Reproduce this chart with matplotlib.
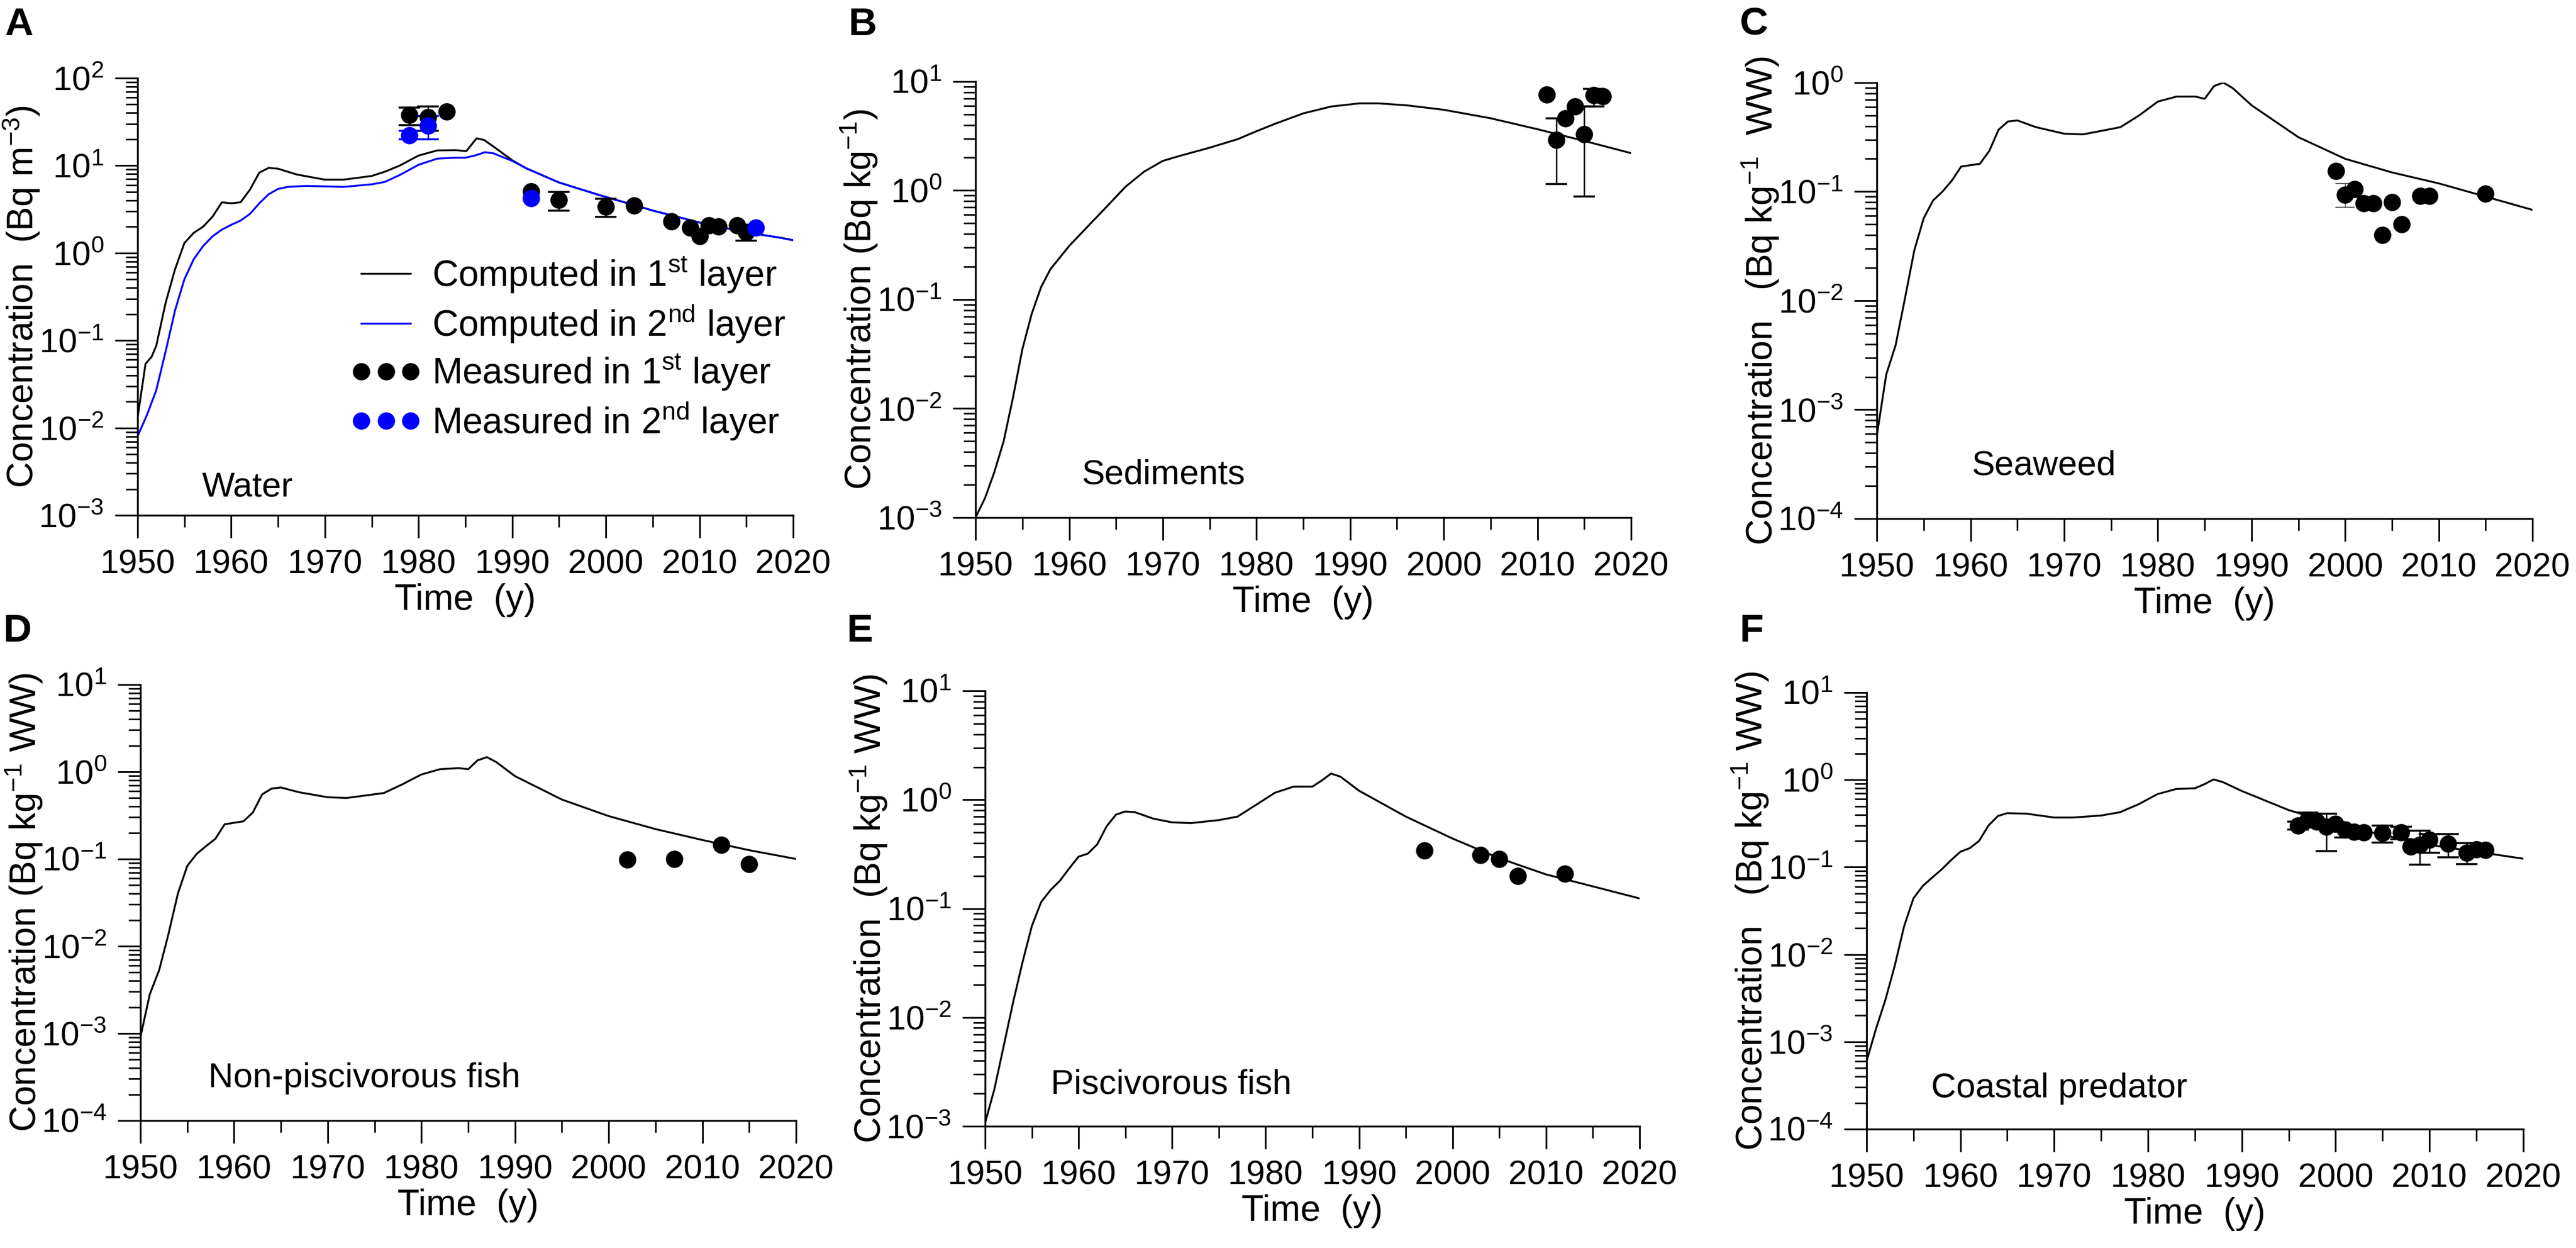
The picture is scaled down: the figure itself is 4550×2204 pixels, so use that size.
import matplotlib
matplotlib.use("Agg")
import matplotlib.pyplot as plt
from matplotlib.ticker import LogLocator, MultipleLocator, NullFormatter

plt.rcParams['font.family'] = ['Liberation Sans', 'DejaVu Sans']
plt.rcParams['mathtext.fontset'] = 'custom'
plt.rcParams['mathtext.rm'] = 'Liberation Sans'
plt.rcParams['mathtext.it'] = 'Liberation Sans:italic'
plt.rcParams['mathtext.bf'] = 'Liberation Sans:bold'

# ---------------- A: water ----------------
a_years_1 = [1950, 1950.85, 1951.5, 1952, 1953, 1954, 1955, 1956, 1957, 1958, 1959, 1960, 1961,
             1962, 1963, 1964, 1965, 1967, 1970, 1972, 1975, 1976.4, 1978, 1980, 1982, 1984,
             1985.1, 1986.2, 1987, 1988, 1990, 1991.5, 1995, 1999.3, 2005, 2010, 2015, 2018.7, 2020]
a_conc_1 = [0.013, 0.054, 0.065, 0.087, 0.27, 0.65, 1.3, 1.7, 2.0, 2.6, 3.8, 3.7, 3.8,
            5.3, 8.3, 9.4, 9.2, 7.9, 6.9, 6.9, 7.6, 8.5, 10.0, 13.0, 14.9, 15.0,
            14.6, 20.5, 19.6, 16.5, 11.5, 9.3, 6.4, 4.6, 3.06, 2.23, 1.72, 1.49, 1.40]
a_years_2 = [1950, 1951, 1952, 1953, 1954, 1955, 1956, 1957, 1958, 1959, 1960, 1961, 1962,
             1963, 1964, 1965, 1966, 1968, 1972, 1975, 1976.4, 1978, 1980, 1982, 1984, 1985,
             1986, 1987.1, 1988, 1990, 1991.5, 1995, 1999.3, 2005, 2010, 2015, 2018.7, 2020]
a_conc_2 = [0.008, 0.014, 0.027, 0.075, 0.22, 0.5, 0.85, 1.2, 1.55, 1.85, 2.1, 2.35, 2.8,
            3.7, 4.7, 5.4, 5.7, 5.85, 5.7, 6.1, 6.5, 7.8, 10.2, 12.0, 12.3, 12.3,
            13.0, 14.2, 13.8, 11.3, 9.3, 6.4, 4.6, 3.06, 2.23, 1.72, 1.49, 1.40]
a_meas1_years = [1979, 1981, 1983, 1992, 1995, 2000, 2003, 2007, 2009, 2010, 2011, 2012, 2014, 2015]
a_meas1_conc = [38, 35.7, 41.5, 5.07, 4.07, 3.39, 3.5, 2.29, 1.96, 1.56, 2.07, 2.0, 2.07, 1.74]
a_err1_years = [1979, 1981, 1995, 2000, 2015]
a_err1_low = [29, 25, 3.04, 2.6, 1.38]
a_err1_high = [46, 47.5, 5.0, 4.2, 2.1]
a_meas2_years = [1979, 1981, 1992, 2016]
a_meas2_conc = [22.3, 28.6, 4.24, 1.96]
a_err2_years = [1979, 1981]
a_err2_low = [20, 20]
a_err2_high = [25, 37]

# ---------------- B: sediments ----------------
b_years = [1950, 1951, 1952, 1953, 1954, 1955, 1956, 1957, 1958, 1960, 1962, 1964, 1966, 1968,
           1970, 1972, 1975, 1978, 1980, 1982, 1985, 1988, 1991, 1993, 1996, 2000, 2005, 2010,
           2015, 2020]
b_conc = [0.001, 0.0015, 0.0026, 0.005, 0.0126, 0.035, 0.074, 0.13, 0.19, 0.31, 0.47, 0.71,
          1.08, 1.49, 1.87, 2.1, 2.47, 2.96, 3.5, 4.1, 5.1, 5.9, 6.3, 6.3, 6.05, 5.5, 4.6,
          3.65, 2.85, 2.2]
b_meas_years = [2011, 2012, 2013, 2014, 2015, 2016, 2017]
b_meas_conc = [7.6, 2.9, 4.6, 5.9, 3.3, 7.5, 7.3]
b_err_years = [2012, 2015, 2016]
b_err_low = [1.15, 0.88, 5.9]
b_err_high = [4.6, 5.9, 8.6]

# ---------------- C: seaweed ----------------
c_years = [1950, 1951, 1952, 1953, 1954, 1955, 1956, 1957, 1958, 1959, 1961, 1962, 1963, 1964,
           1965, 1967, 1970, 1972, 1976, 1978, 1980, 1982, 1984, 1985, 1986, 1987, 1988, 1990,
           1995, 2000, 2005, 2010, 2015, 2020]
c_conc = [0.00058, 0.0021, 0.0039, 0.0105, 0.029, 0.057, 0.083, 0.10, 0.126, 0.17, 0.18, 0.236,
          0.37, 0.44, 0.45, 0.39, 0.34, 0.335, 0.39, 0.5, 0.67, 0.745, 0.745, 0.71, 0.93, 1.0,
          0.89, 0.62, 0.316, 0.2, 0.15, 0.119, 0.09, 0.068]
c_meas_years = [1999, 2000, 2001, 2002, 2003, 2004, 2005, 2006, 2008, 2009, 2015]
c_meas_conc = [0.155, 0.094, 0.106, 0.078, 0.078, 0.04, 0.08, 0.05, 0.091, 0.091, 0.096]
c_err_years = [2000]
c_err_low = [0.072]
c_err_high = [0.119]

# ---------------- D: non-piscivorous fish ----------------
d_years = [1950, 1951, 1952, 1953, 1954, 1955, 1956, 1957, 1958, 1959, 1961, 1962, 1963, 1964,
           1965, 1967, 1970, 1972, 1976, 1978, 1980, 1982, 1984, 1985, 1986, 1987, 1988, 1990,
           1995, 2000, 2005, 2010, 2015, 2020]
d_conc = [0.0009, 0.0028, 0.0053, 0.0138, 0.04, 0.083, 0.114, 0.14, 0.17, 0.25, 0.27, 0.34,
          0.55, 0.64, 0.66, 0.58, 0.51, 0.5, 0.57, 0.72, 0.93, 1.07, 1.1, 1.07, 1.35, 1.47,
          1.29, 0.89, 0.48, 0.31, 0.22, 0.165, 0.126, 0.1]
d_meas_years = [2002, 2007, 2012, 2015]
d_meas_conc = [0.099, 0.1, 0.145, 0.087]

# ---------------- E: piscivorous fish ----------------
e_years = [1950, 1951, 1952, 1953, 1954, 1955, 1956, 1957, 1958, 1959, 1960, 1961, 1962, 1963,
           1964, 1965, 1966, 1968, 1970, 1972, 1975, 1977, 1979, 1981, 1983, 1985, 1986, 1987,
           1988, 1990, 1995, 2000, 2005, 2010, 2015, 2020]
e_conc = [0.00107, 0.0022, 0.0055, 0.0138, 0.032, 0.069, 0.115, 0.148, 0.18, 0.234, 0.3, 0.32,
          0.39, 0.57, 0.73, 0.78, 0.77, 0.67, 0.62, 0.61, 0.65, 0.7, 0.9, 1.16, 1.32, 1.32,
          1.5, 1.74, 1.63, 1.21, 0.70, 0.44, 0.29, 0.206, 0.16, 0.124]
e_meas_years = [1997, 2003, 2005, 2007, 2012]
e_meas_conc = [0.34, 0.31, 0.284, 0.2, 0.21]

# ---------------- F: coastal predator ----------------
f_years = [1950, 1951, 1952, 1953, 1954, 1955, 1956, 1957, 1958, 1959, 1960, 1961, 1962, 1963,
           1964, 1965, 1967, 1970, 1972, 1975, 1977, 1979, 1981, 1983, 1985, 1986, 1987, 1988,
           1990, 1995, 2000, 2005, 2010, 2015, 2020]
f_conc = [0.0006, 0.0014, 0.003, 0.0074, 0.021, 0.044, 0.061, 0.076, 0.094, 0.12, 0.15, 0.165,
          0.2, 0.3, 0.385, 0.415, 0.41, 0.37, 0.37, 0.39, 0.425, 0.525, 0.685, 0.785, 0.8,
          0.89, 1.01, 0.94, 0.745, 0.45, 0.31, 0.234, 0.18, 0.15, 0.125]
f_meas_years = [1996, 1997, 1998, 1999, 2000, 2001, 2002, 2003, 2005, 2007, 2008, 2009, 2010,
                2012, 2014, 2015, 2016]
f_meas_conc = [0.30, 0.345, 0.33, 0.29, 0.315, 0.27, 0.255, 0.25, 0.245, 0.25, 0.173, 0.18,
               0.205, 0.186, 0.146, 0.16, 0.157]
f_err_years = [1996, 1997, 1999, 2001, 2005, 2007, 2009, 2010, 2012, 2014]
f_err_low = [0.27, 0.30, 0.153, 0.22, 0.19, 0.21, 0.107, 0.147, 0.13, 0.108]
f_err_high = [0.33, 0.42, 0.41, 0.30, 0.30, 0.29, 0.26, 0.24, 0.24, 0.187]

MS = 21        # marker size
LW = 2.4       # curve width


def setup_axis(ax, ymin, ymax, ylabel, name, name_x, name_y):
    ax.set_yscale('log')
    ax.set_xlim(1950, 2020)
    ax.set_ylim(ymin, ymax)
    ax.xaxis.set_major_locator(MultipleLocator(10))
    ax.xaxis.set_minor_locator(MultipleLocator(5))
    ax.yaxis.set_major_locator(LogLocator(base=10, numticks=20))
    ax.yaxis.set_minor_locator(LogLocator(base=10, subs=[2, 3, 4, 5, 6, 7, 8, 9], numticks=20))
    ax.yaxis.set_minor_formatter(NullFormatter())
    for side in ['top', 'right']:
        ax.spines[side].set_visible(False)
    for side in ['left', 'bottom']:
        ax.spines[side].set_linewidth(2.4)
    ax.tick_params(which='major', length=29, width=2.2, labelsize=43, pad=14)
    ax.tick_params(which='minor', length=15, width=2.0)
    ax.set_xlabel('Time  (y)', fontsize=46, labelpad=4)
    ax.set_ylabel(ylabel, fontsize=46)
    # label coordinate is the right edge of the rotated text
    ax.yaxis.set_label_coords(-0.146, 0.5)
    ax.text(name_x, name_y, name, transform=ax.transAxes, fontsize=44, va='baseline')


def draw_errors(ax, years, conc, err_years, low, high, color, lw=1.8, cap=14):
    lookup = dict(zip(years, conc))
    centre = [lookup[y] for y in err_years]
    below = [c - l for c, l in zip(centre, low)]
    above = [h - c for c, h in zip(centre, high)]
    ax.errorbar(err_years, centre, yerr=[below, above], fmt='none', ecolor=color,
                elinewidth=lw, capsize=cap, capthick=lw * 1.4, zorder=3)


fig = plt.figure(figsize=(45.5, 22.04), dpi=100)

# axes placed by hand so the grid matches the original figure
ax_a = fig.add_axes([0.0534, 0.5871, 0.2545, 0.3503])
ax_b = fig.add_axes([0.3787, 0.5853, 0.2545, 0.3494])
ax_c = fig.add_axes([0.7286, 0.5844, 0.2545, 0.3494])
ax_d = fig.add_axes([0.0545, 0.1021, 0.2545, 0.3494])
ax_e = fig.add_axes([0.3824, 0.0975, 0.2541, 0.3489])
ax_f = fig.add_axes([0.7246, 0.0953, 0.2549, 0.3498])

# A
line1, = ax_a.plot(a_years_1, a_conc_1, color='black', lw=LW, zorder=2)
line2, = ax_a.plot(a_years_2, a_conc_2, color='blue', lw=LW, zorder=2)
draw_errors(ax_a, a_meas1_years, a_meas1_conc, a_err1_years, a_err1_low, a_err1_high, 'black')
draw_errors(ax_a, a_meas2_years, a_meas2_conc, a_err2_years, a_err2_low, a_err2_high, 'blue')
pts1, = ax_a.plot(a_meas1_years, a_meas1_conc, 'o', color='black', ms=MS, zorder=4)
pts2, = ax_a.plot(a_meas2_years, a_meas2_conc, 'o', color='blue', ms=MS, zorder=4)
setup_axis(ax_a, 1e-3, 1e2, r'Concentration  (Bq m$^{-3}$)', 'Water', 0.098, 0.043)
ax_a.legend([line1, line2, pts1, pts2],
            [r'Computed in 1$^{\mathrm{st}}$ layer', r'Computed in 2$^{\mathrm{nd}}$ layer',
             r'Measured in 1$^{\mathrm{st}}$ layer', r'Measured in 2$^{\mathrm{nd}}$ layer'],
            loc='upper left', bbox_to_anchor=(0.325, 0.595), frameon=False, fontsize=46,
            numpoints=3, handlelength=1.95, handletextpad=0.3, labelspacing=0.22,
            borderpad=0, borderaxespad=0, markerscale=1.0)

# B
ax_b.plot(b_years, b_conc, color='black', lw=LW, zorder=2)
draw_errors(ax_b, b_meas_years, b_meas_conc, b_err_years, b_err_low, b_err_high, 'black')
ax_b.plot(b_meas_years, b_meas_conc, 'o', color='black', ms=MS, zorder=4)
setup_axis(ax_b, 1e-3, 1e1, r'Concentration (Bq kg$^{-1}$)', 'Sediments', 0.162, 0.077)

# C
ax_c.plot(c_years, c_conc, color='black', lw=LW, zorder=2)
draw_errors(ax_c, c_meas_years, c_meas_conc, c_err_years, c_err_low, c_err_high, '#444444',
            lw=0.9, cap=12)
ax_c.plot(c_meas_years, c_meas_conc, 'o', color='black', ms=MS, zorder=4)
setup_axis(ax_c, 1e-4, 1e0, r'Concentration   (Bq kg$^{-1}$  WW)', 'Seaweed', 0.144, 0.1)

# D
ax_d.plot(d_years, d_conc, color='black', lw=LW, zorder=2)
ax_d.plot(d_meas_years, d_meas_conc, 'o', color='black', ms=MS, zorder=4)
setup_axis(ax_d, 1e-4, 1e1, r'Concentration (Bq kg$^{-1}$ WW)', 'Non-piscivorous fish', 0.104, 0.077)

# E
ax_e.plot(e_years, e_conc, color='black', lw=LW, zorder=2)
ax_e.plot(e_meas_years, e_meas_conc, 'o', color='black', ms=MS, zorder=4)
setup_axis(ax_e, 1e-3, 1e1, r'Concentration  (Bq kg$^{-1}$ WW)', 'Piscivorous fish', 0.1, 0.075)

# F
ax_f.plot(f_years, f_conc, color='black', lw=LW, zorder=2)
draw_errors(ax_f, f_meas_years, f_meas_conc, f_err_years, f_err_low, f_err_high, 'black')
ax_f.plot(f_meas_years, f_meas_conc, 'o', color='black', ms=MS, zorder=4)
setup_axis(ax_f, 1e-4, 1e1, r'Concentration   (Bq kg$^{-1}$ WW)', 'Coastal predator', 0.098, 0.073)

# panel letters
letters = ['A', 'B', 'C', 'D', 'E', 'F']
letter_x = [8, 1498, 3072, 5, 1495, 3072]
letter_y = [12, 12, 12, 1083, 1083, 1083]
for lab, lx, ly in zip(letters, letter_x, letter_y):
    fig.text(lx / 4550, 1 - ly / 2204, lab, fontsize=50, fontweight='bold', va='top', ha='left')

fig.savefig('out.png', dpi=100)
